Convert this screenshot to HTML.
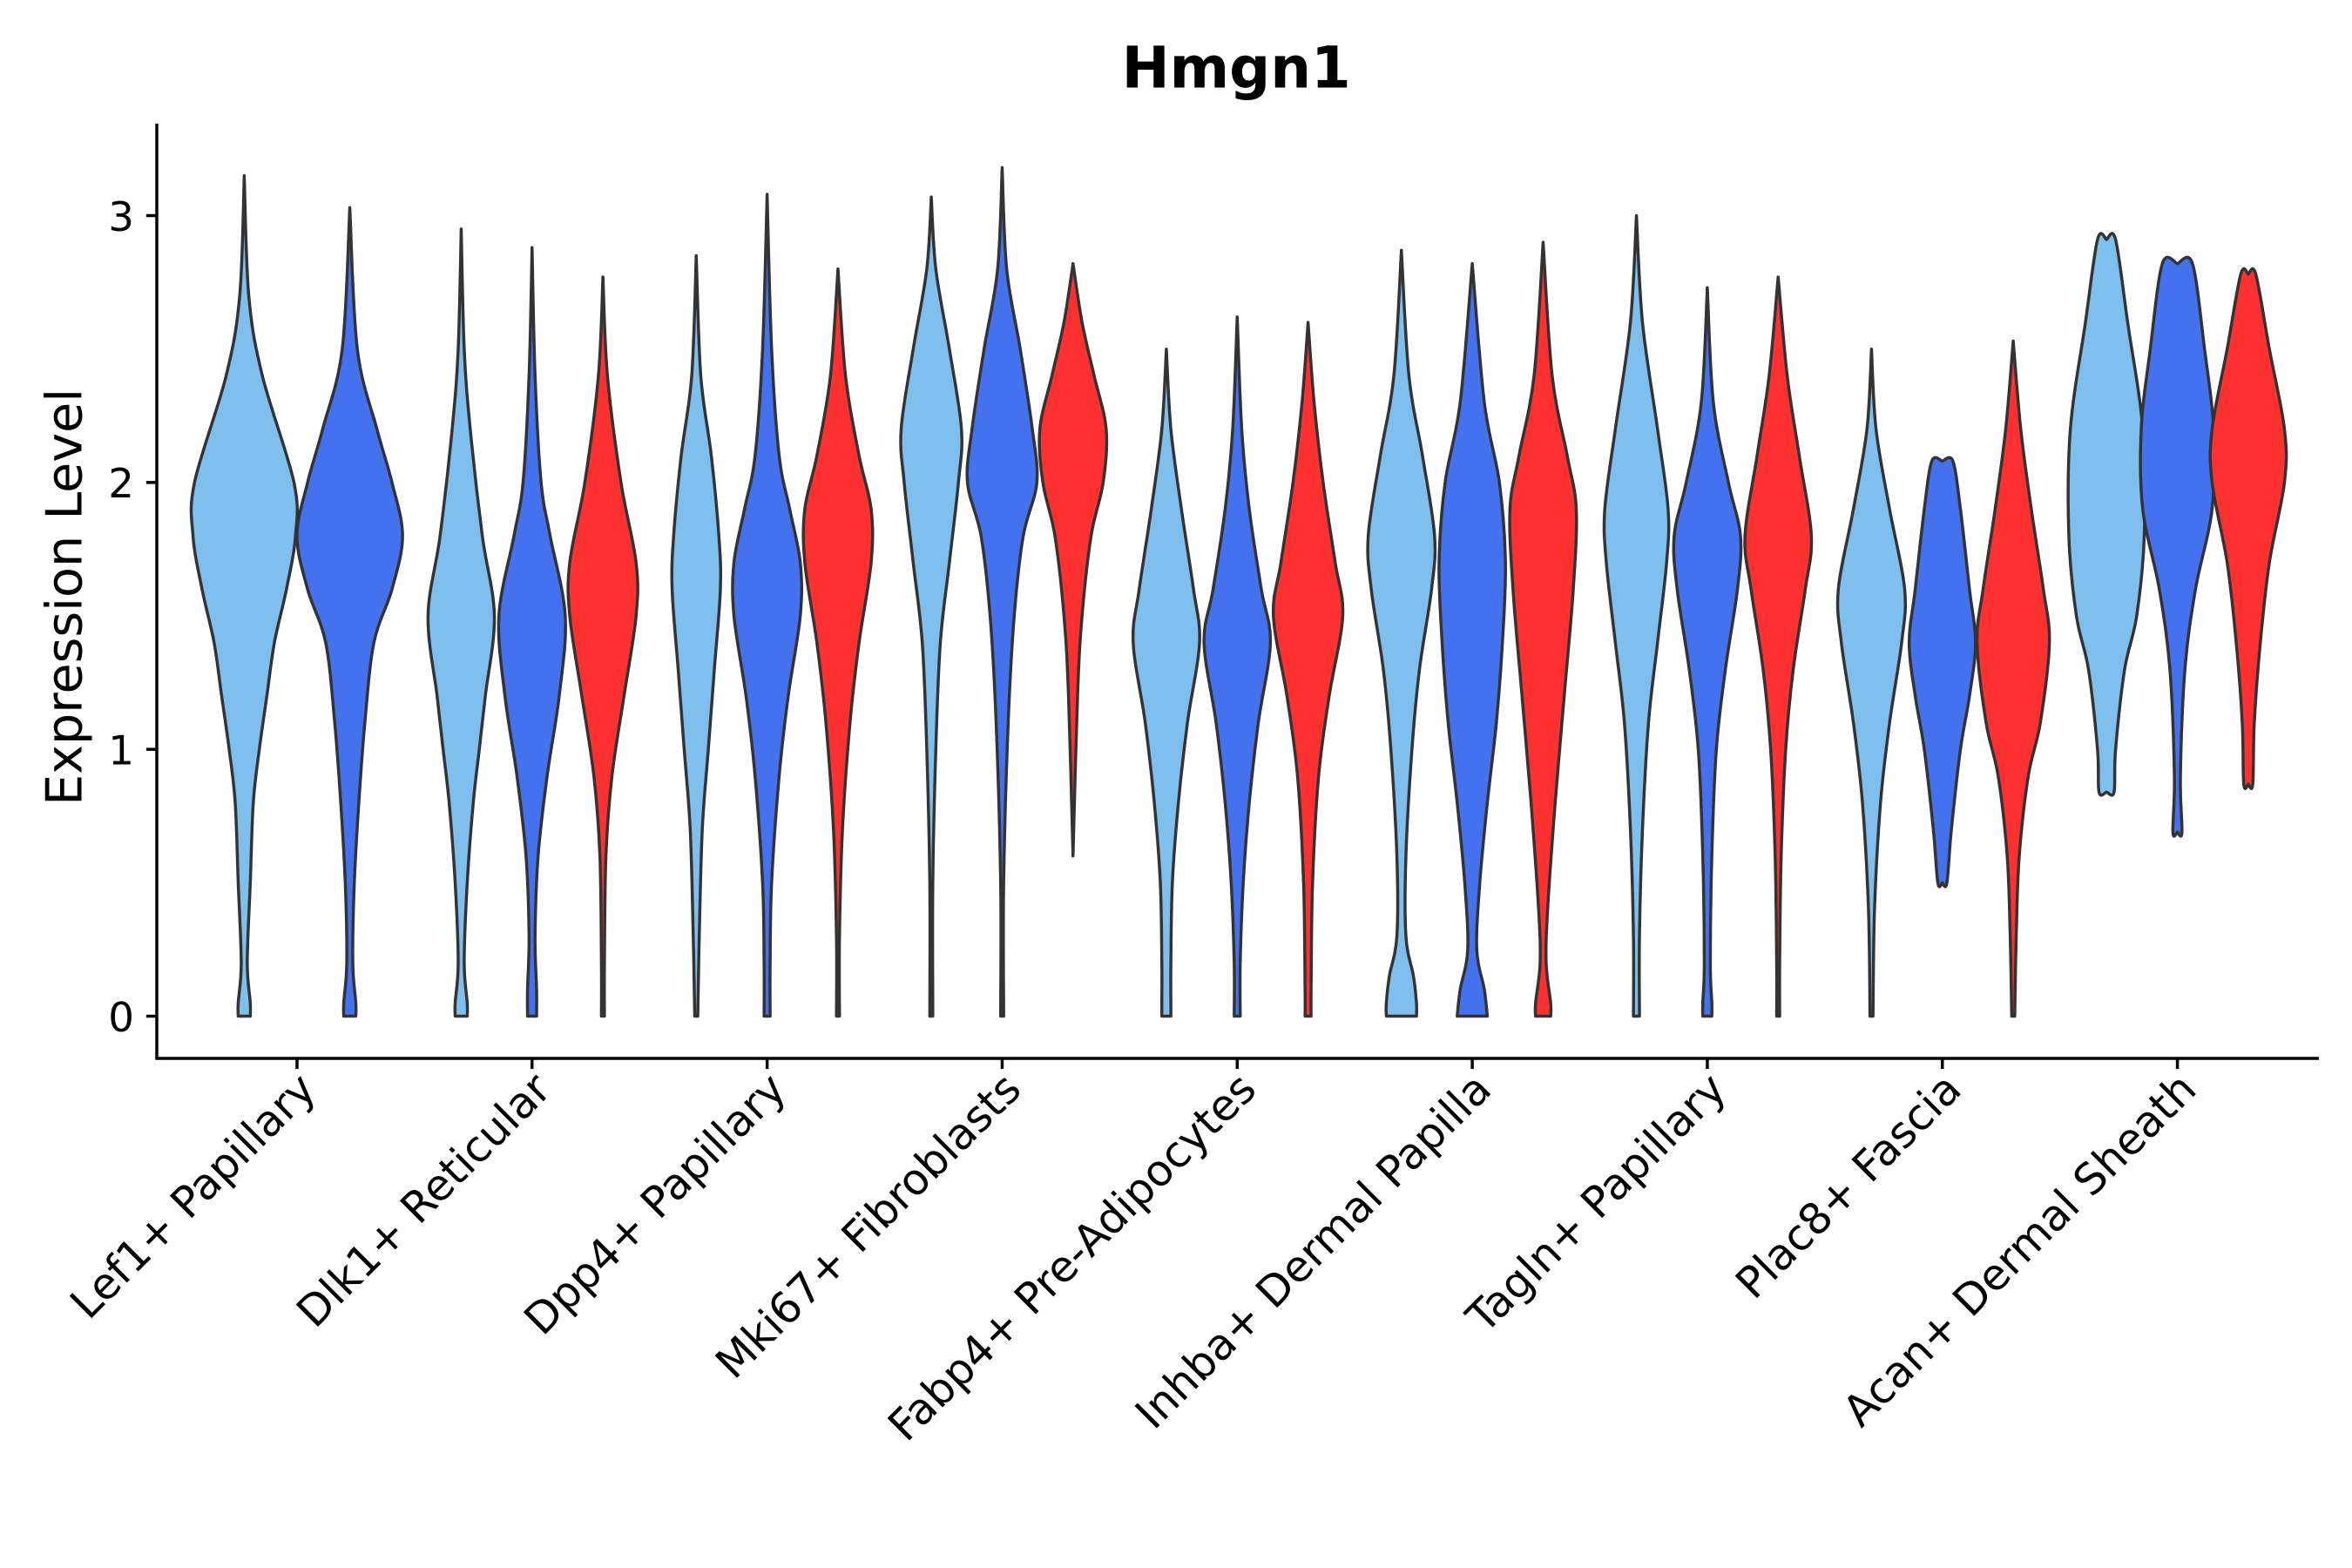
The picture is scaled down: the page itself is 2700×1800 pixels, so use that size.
<!DOCTYPE html>
<html><head><meta charset="utf-8"><style>
html,body{margin:0;padding:0;background:#fff}
svg{display:block}
text{font-family:"DejaVu Sans","Liberation Sans",sans-serif;fill:#000}
</style></head><body>
<svg id="chart" width="2700" height="1800" viewBox="0 0 1560 1040" xmlns="http://www.w3.org/2000/svg">
<text x="820" y="58" text-anchor="middle" font-size="38" font-weight="bold">Hmgn1</text>
<text transform="translate(54,396) rotate(-90)" text-anchor="middle" font-size="33">Expression Level</text>
<g id="plot"></g>
</svg>
<script>
const categories = ["Lef1+ Papillary","Dlk1+ Reticular","Dpp4+ Papillary","Mki67+ Fibroblasts","Fabp4+ Pre-Adipocytes","Inhba+ Dermal Papilla","Tagln+ Papillary","Plac8+ Fascia","Acan+ Dermal Sheath"];
const yTicks = [0,1,2,3];
const groupNames = ["light","blue","red"];
const violinCat   = [0,0, 1,1,1, 2,2,2, 3,3,3, 4,4,4, 5,5,5, 6,6,6, 7,7,7, 8,8,8];
const violinGroup = [0,1, 0,1,2, 0,1,2, 0,1,2, 0,1,2, 0,1,2, 0,1,2, 0,1,2, 0,1,2];
const violinLevels = [
 [3.15,2.7,2.4,2.0,1.8,1.6,1.4,1.2,1.0,0.8,0.5,0.2,0.05,0],
 [3.03,2.5,2.2,2.0,1.8,1.6,1.4,1.1,0.8,0.5,0.2,0.05,0],
 [2.95,2.5,2.2,1.8,1.5,1.2,1.0,0.8,0.5,0.2,0.05,0],
 [2.88,2.4,2.0,1.8,1.5,1.2,0.9,0.6,0.3,0.1,0],
 [2.77,2.4,2.0,1.7,1.5,1.2,0.9,0.6,0.2,0],
 [2.85,2.4,2.1,1.8,1.6,1.3,1.0,0.7,0.3,0],
 [3.08,2.5,2.1,1.9,1.7,1.5,1.2,0.9,0.5,0.2,0],
 [2.8,2.4,2.1,1.9,1.7,1.4,1.1,0.7,0.3,0],
 [3.07,2.8,2.5,2.2,2.0,1.7,1.4,1.0,0.5,0],
 [3.18,2.8,2.5,2.2,2.0,1.8,1.5,1.1,0.5,0],
 [2.82,2.6,2.4,2.2,2.0,1.8,1.5,1.2,0.6],
 [2.5,2.2,1.9,1.6,1.4,1.1,0.8,0.5,0.2,0.05,0],
 [2.62,2.2,1.9,1.6,1.4,1.1,0.8,0.5,0.2,0],
 [2.6,2.3,2.0,1.7,1.5,1.2,0.9,0.5,0.1,0],
 [2.87,2.4,2.1,1.8,1.6,1.3,1.0,0.6,0.3,0.15,0.05,0],
 [2.82,2.3,2.0,1.7,1.4,1.1,0.8,0.5,0.25,0.1,0],
 [2.9,2.4,2.1,1.9,1.6,1.2,0.8,0.4,0.2,0.05,0],
 [3.0,2.6,2.2,1.9,1.7,1.4,1.1,0.7,0.3,0],
 [2.73,2.3,2.0,1.8,1.6,1.3,1.0,0.6,0.2,0.05,0],
 [2.77,2.4,2.1,1.8,1.6,1.3,1.0,0.6,0.2,0],
 [2.5,2.2,1.9,1.6,1.4,1.1,0.8,0.4,0],
 [2.08,2.08,1.9,1.6,1.4,1.2,1.0,0.7,0.5,0.5],
 [2.53,2.2,1.9,1.6,1.4,1.1,0.9,0.6,0.3,0],
 [2.91,2.91,2.6,2.2,1.8,1.5,1.3,1.0,0.84,0.84],
 [2.82,2.82,2.5,2.2,1.9,1.6,1.3,0.9,0.69,0.69],
 [2.78,2.78,2.5,2.2,2.0,1.7,1.4,1.1,0.87,0.87]
];
const violinDensity = [
 [0,3,12,33,34,28,20,15,10,6,4,2,4,4],
 [0,5,18,28,35,28,16,10,6,3,2,4,4],
 [0,2,6,14,22,16,12,8,4,2,4,4],
 [0,2,6,12,22,18,10,4,2,3,3],
 [0,3,12,22,22,14,6,2,1,1],
 [0,3,10,15,16,12,8,4,2,1],
 [0,3,8,15,22,22,14,8,3,2,2],
 [0,5,14,22,22,14,8,3,1,1],
 [0,3,12,20,18,12,6,3,1,1],
 [0,3,12,20,23,14,8,4,1,1],
 [0,6,14,22,20,12,6,3,0],
 [0,3,10,18,22,14,8,4,3,3,3],
 [0,3,8,16,22,14,8,4,2,2],
 [0,4,10,18,23,14,7,3,2,2],
 [0,5,14,22,20,12,7,3,3,8,10,10],
 [0,8,18,22,20,16,10,5,3,8,10],
 [0,6,16,22,20,14,8,3,2,5,5],
 [0,4,14,21,20,14,8,4,2,2],
 [0,4,14,22,20,12,6,3,2,3,3],
 [0,6,14,22,18,10,5,2,1,1],
 [0,3,12,22,20,12,6,2,1],
 [0,7,12,18,22,18,12,6,3,0],
 [0,5,12,20,24,18,10,4,2,1],
 [0,6,14,24,25,20,12,6,5,0],
 [0,10,18,24,23,12,5,2,3,0],
 [0,5,14,24,24,14,8,4,3,0]
];
const groupColors = ["#7fbfee","#4472ee","#ff3030"];

const NS="http://www.w3.org/2000/svg";
const plot=document.getElementById('plot');
const X0=104, X1=1538, Ytop=82, Ybot=702;
const yScale = v => 674 - v*177;
const xCat = i => 197 + i*155.9;
const dodge = 47;
function mk(tag, attrs){const e=document.createElementNS(NS,tag);for(const k in attrs)e.setAttribute(k,attrs[k]);plot.appendChild(e);return e;}
function smooth(P){
  let d="M"+P[0][0].toFixed(2)+","+P[0][1].toFixed(2);
  for(let i=0;i<P.length-1;i++){
    const p0=P[Math.max(0,i-1)],p1=P[i],p2=P[i+1],p3=P[Math.min(P.length-1,i+2)];
    const t=1/6;
    const c1=[p1[0]+(p2[0]-p0[0])*t,p1[1]+(p2[1]-p0[1])*t];
    const c2=[p2[0]-(p3[0]-p1[0])*t,p2[1]-(p3[1]-p1[1])*t];
    d+=" C"+c1.map(v=>v.toFixed(2)).join(",")+" "+c2.map(v=>v.toFixed(2)).join(",")+" "+p2[0].toFixed(2)+","+p2[1].toFixed(2);
  }
  return d;
}

for(let v=0; v<violinCat.length; v++){
  const c=violinCat[v], g=violinGroup[v];
  const nInCat = violinCat.filter(x=>x===c).length;
  let cx;
  if(nInCat===2) cx = xCat(c) + (g===0?-35:35);
  else cx = xCat(c) + (g-1)*dodge;
  const L=violinLevels[v], D=violinDensity[v];
  const right=[], left=[];
  for(let i=0;i<L.length;i++) right.push([cx+D[i], yScale(L[i])]);
  for(let i=L.length-1;i>=0;i--) left.push([cx-D[i], yScale(L[i])]);
  let d=smooth(right)+" L"+left[0][0].toFixed(2)+","+left[0][1].toFixed(2)+" "+smooth(left).replace(/^M[^ ]+/,"")+" Z";
  const p=mk('path',{d:d,fill:groupColors[g],stroke:'#333','stroke-width':2,'stroke-linejoin':'round'});
  
  
}

const ya=mk('line',{x1:X0,y1:Ytop,x2:X0,y2:Ybot,stroke:'#000','stroke-width':2});


const xa=mk('line',{x1:X0-1,y1:Ybot,x2:X1,y2:Ybot,stroke:'#000','stroke-width':2});



yTicks.forEach(t=>{
  const y=yScale(t);
  const tk=mk('line',{x1:X0-7,y1:y,x2:X0,y2:y,stroke:'#000','stroke-width':2});
  
  
  const tx=mk('text',{x:X0-15,y:y+10,'text-anchor':'end','font-size':27});
  tx.textContent=t;
  
  
});

categories.forEach((name,i)=>{
  const x=xCat(i);
  const tk=mk('line',{x1:x,y1:Ybot,x2:x,y2:Ybot+7,stroke:'#000','stroke-width':2});
  
  
  const tx=mk('text',{transform:`translate(${x+14},${Ybot+22}) rotate(-45)`,'text-anchor':'end','font-size':28.5});
  tx.textContent=name;
  
  
});
</script>
</body></html>
